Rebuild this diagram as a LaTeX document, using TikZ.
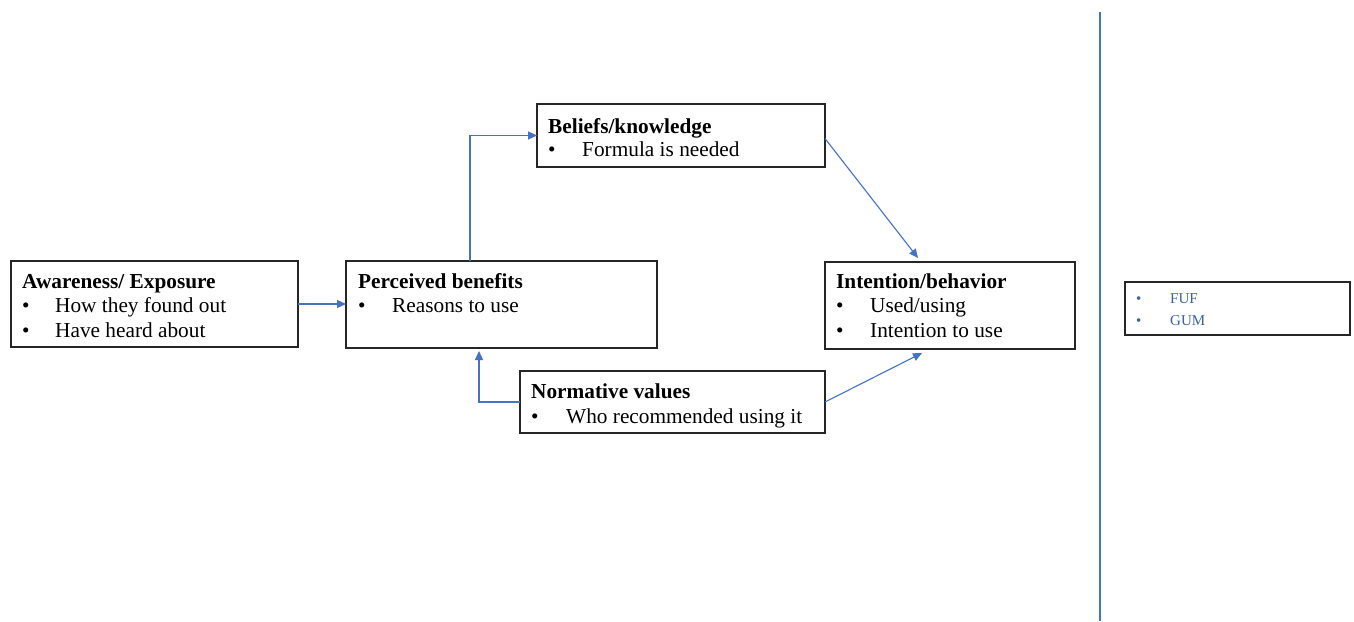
\documentclass[tikz,border=0pt]{standalone}
\usepackage{fontspec}
\setmainfont{Liberation Serif}
\usetikzlibrary{arrows.meta}
\definecolor{lineblue}{RGB}{68,114,196}
\begin{document}
\begin{tikzpicture}[x=1pt,y=-1pt,
 boxstyle/.style={draw=black!85, line width=1.3pt, inner sep=0pt, outer sep=0pt, anchor=north west},
 txt/.style={anchor=base west, inner sep=0pt, font=\fontsize{21.3}{25}\selectfont},
 ttl/.style={anchor=base west, inner sep=0pt, font=\fontsize{21.3}{25}\selectfont\bfseries},
 small/.style={anchor=base west, inner sep=0pt, text=lineblue!85!black, font=\fontsize{15}{18}\selectfont},
 link/.style={draw=lineblue, line width=1.1pt, -{Triangle[length=9pt,width=8pt]}},
]
\useasboundingbox (0,0) rectangle (1354,621);
\fill[white] (0,0) rectangle (1354,621);

% boxes
\node[boxstyle, minimum width=287pt, minimum height=86pt] (aw) at (11,261) {};
\node[boxstyle, minimum width=311pt, minimum height=87pt] (pb) at (346,261) {};
\node[boxstyle, minimum width=288pt, minimum height=63pt] (bk) at (537,104) {};
\node[boxstyle, minimum width=305pt, minimum height=62pt] (nv) at (520,371) {};
\node[boxstyle, minimum width=250pt, minimum height=87pt] (ib) at (825,262) {};
\node[boxstyle, minimum width=225pt, minimum height=53pt] (fb) at (1125,282) {};

% texts
\node[ttl] (awt) at (22,288) {Awareness/ Exposure};
\node[txt] (awb1) at (22,312) {•};
\node[txt] (awl1) at (55,312) {How they found out};
\node[txt] (awb2) at (22,337) {•};
\node[txt] (awl2) at (55,337) {Have heard about};

\node[ttl] (pbt) at (358,288) {Perceived benefits};
\node[txt] (pbb1) at (358,312) {•};
\node[txt] (pbl1) at (392,312) {Reasons to use};

\node[ttl] (bkt) at (548,133) {Beliefs/knowledge};
\node[txt] (bkb1) at (548,156) {•};
\node[txt] (bkl1) at (582,156) {Formula is needed};

\node[ttl] (nvt) at (531,398) {Normative values};
\node[txt] (nvb1) at (531,423) {•};
\node[txt] (nvl1) at (566,423) {Who recommended using it};

\node[ttl] (ibt) at (836,288) {Intention/behavior};
\node[txt] (ibb1) at (836,312) {•};
\node[txt] (ibl1) at (870,312) {Used/using};
\node[txt] (ibb2) at (836,337) {•};
\node[txt] (ibl2) at (870,337) {Intention to use};

\node[small] (fbb1) at (1136,303) {•};
\node[small] (fbl1) at (1170,303) {FUF};
\node[small] (fbb2) at (1136,325) {•};
\node[small] (fbl2) at (1170,325) {GUM};

% connectors
\draw[link] (aw.east) -- (pb.west |- aw.east);
\draw[link] ([xshift=124pt]pb.north west) |- (bk.west);
\draw[link] ([yshift=-3pt]bk.east) -- ([xshift=93pt,yshift=4pt]ib.north west);
\draw[link] (nv.west) -| ([xshift=133pt,yshift=-3pt]pb.south west);
\draw[link] (nv.east) -- ([xshift=97pt,yshift=-4pt]ib.south west);

% divider
\coordinate (vtop) at (1100,12);
\coordinate (vbot) at (1100,621);
\draw[lineblue, line width=1.6pt] (vtop) -- (vbot);
\end{tikzpicture}
\end{document}
